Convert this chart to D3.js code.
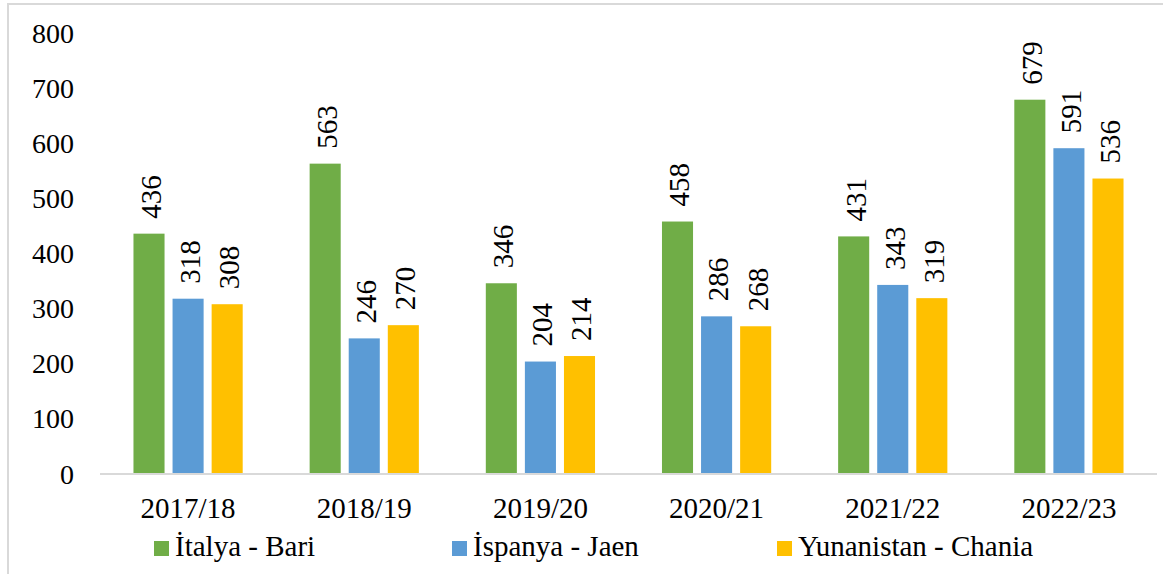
<!DOCTYPE html>
<html>
<head>
<meta charset="utf-8">
<script src="https://cdn.jsdelivr.net/npm/d3@7"></script>
<style>
  body { margin: 0; background: #fff; }
  svg { display: block; }
</style>
</head>
<body>
<svg id="drawing_region"></svg>
<script>
const seasons = ["2017/18", "2018/19", "2019/20", "2020/21", "2021/22", "2022/23"];
const seriesNames = ["İtalya - Bari", "İspanya - Jaen", "Yunanistan - Chania"];
const italyBari = [436, 563, 346, 458, 431, 679];
const spainJaen = [318, 246, 204, 286, 343, 591];
const greeceChania = [308, 270, 214, 268, 319, 536];
const yTicks = [0, 100, 200, 300, 400, 500, 600, 700, 800];
const colors = ["#70ad47", "#5b9bd5", "#ffc000"];

const seriesValues = [italyBari, spainJaen, greeceChania];

const margin = { left: 100, right: 1157, top: 33, bottom: 474 };
const chartW = 1163, chartH = 574;
const serif = "'Liberation Serif', 'Times New Roman', serif";

const svg = d3.select("#drawing_region")
    .attr("width", chartW)
    .attr("height", chartH)
    .attr("font-family", serif)
    .style("font-family", serif);

// chart frame
svg.append("rect")
    .attr("x", 8).attr("y", 4)
    .attr("width", 1180).attr("height", 620)
    .attr("fill", "none")
    .attr("stroke", "#d9d9d9")
    .attr("stroke-width", 2);

const x0 = d3.scaleBand()
    .domain(seasons)
    .range([margin.left, margin.right])
    .paddingInner(0.38)
    .paddingOuter(0.19);

const x1 = d3.scaleBand()
    .domain(seriesNames)
    .range([0, x0.bandwidth()])
    .paddingInner(0.205);

const y = d3.scaleLinear()
    .domain([0, 800])
    .range([margin.bottom, margin.top]);

// y axis labels
svg.append("g")
  .selectAll("text")
  .data(yTicks)
  .join("text")
    .attr("x", 74)
    .attr("y", d => y(d))
    .attr("dy", "0.34em")
    .attr("text-anchor", "end")
    .attr("font-family", serif)
    .attr("font-size", 28)
    .text(d => d);

// bars
const groups = svg.append("g")
  .selectAll("g")
  .data(seasons)
  .join("g")
    .attr("transform", d => `translate(${x0(d)},0)`);

const cells = (d, i) => seriesNames.map((s, j) => ({ s, j, v: seriesValues[j][i] }));

groups.selectAll("rect")
  .data(cells)
  .join("rect")
    .attr("x", d => x1(d.s))
    .attr("y", d => y(d.v))
    .attr("width", x1.bandwidth())
    .attr("height", d => y(0) - y(d.v))
    .attr("fill", d => colors[d.j]);

groups.selectAll("text")
  .data(cells)
  .join("text")
    .attr("transform", d => `translate(${x1(d.s) + x1.bandwidth() / 2 + 2},${y(d.v) - 15}) rotate(-90)`)
    .attr("dy", "0.34em")
    .attr("text-anchor", "start")
    .attr("font-family", serif)
    .attr("font-size", 29)
    .text(d => d.v);

// x axis line
svg.append("line")
    .attr("x1", margin.left).attr("x2", margin.right)
    .attr("y1", margin.bottom).attr("y2", margin.bottom)
    .attr("stroke", "#d9d9d9")
    .attr("stroke-width", 2);

// x labels
svg.append("g")
  .selectAll("text")
  .data(seasons)
  .join("text")
    .attr("x", d => x0(d) + x0.bandwidth() / 2)
    .attr("y", 518)
    .attr("text-anchor", "middle")
    .attr("font-family", serif)
    .attr("font-size", 29)
    .text(d => d);

// legend
const legendX = [154, 452, 777];
const legend = svg.append("g")
  .selectAll("g")
  .data(seriesNames)
  .join("g")
    .attr("transform", (d, i) => `translate(${legendX[i]},0)`);

legend.append("rect")
    .attr("x", 0).attr("y", 541)
    .attr("width", 15).attr("height", 15)
    .attr("fill", (d, i) => colors[i]);

legend.append("text")
    .attr("x", 21).attr("y", 556)
    .attr("font-family", serif)
    .attr("font-size", 29)
    .text(d => d);
</script>
</body>
</html>
